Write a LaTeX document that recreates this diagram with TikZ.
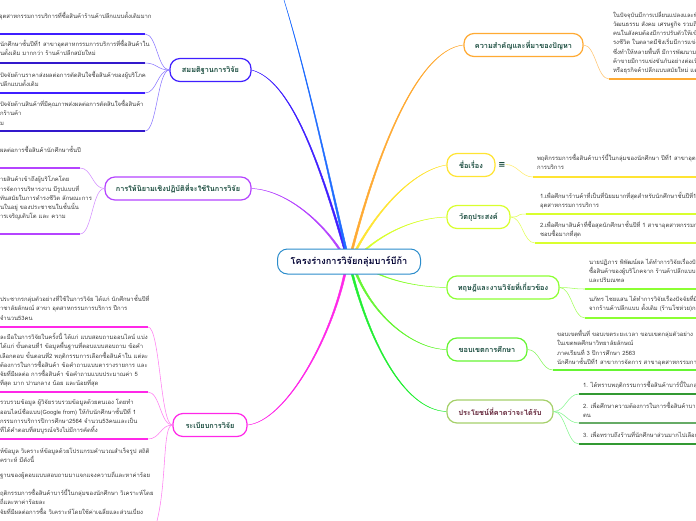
\documentclass[tikz,border=0pt]{standalone}
\usepackage{fontspec}
\newfontfamily\thaifont[Script=Thai]{Loma}
\newfontfamily\dvfont{DejaVu Sans}
\usetikzlibrary{backgrounds}
\definecolor{rootc}{HTML}{2B8CCB}
\definecolor{orc}{HTML}{FFAA33}
\definecolor{yec}{HTML}{FFE433}
\definecolor{ygc}{HTML}{D9FF2E}
\definecolor{lgc}{HTML}{8CFF33}
\definecolor{grc}{HTML}{66F533}
\definecolor{olc}{HTML}{A5D06A}
\definecolor{blc}{HTML}{3F1FFF}
\definecolor{puc}{HTML}{B544FF}
\definecolor{mac}{HTML}{FF28E8}
\definecolor{skc}{HTML}{1F6CFF}
\definecolor{titc}{HTML}{174A3C}
\definecolor{marc}{HTML}{5C1A30}
\definecolor{txtc}{HTML}{3C3C3C}
\definecolor{olg}{HTML}{22EE33}
\tikzset{
  x=1pt,y=-1pt,
  branch/.style={draw,line width=1.2pt,rounded corners=10pt,fill=white,inner sep=0pt,
    minimum height=23pt,text=titc,font=\thaifont\bfseries\fontsize{7.3}{9}\selectfont},
  rootbox/.style={draw=rootc,line width=1pt,rounded corners=10pt,fill=white,inner sep=0pt,
    minimum width=143pt,minimum height=25pt,text=black!80!blue,font=\thaifont\bfseries\fontsize{9.2}{11}\selectfont},
  leaftext/.style={anchor=north west,inner sep=0pt,outer sep=0pt,align=left,text=txtc,yshift=4.4pt,
    font=\thaifont\fontsize{5.9}{9.1}\selectfont,execute at begin node=\strut},
  uline/.style={line width=#1},
  uline/.default=1.8pt,
  twig/.style={line width=.55pt}
}
% tapered connector: start, end, control 1, control 2, colour
\newcommand{\taper}[5]{%
  \draw[#5,fill=#5,line width=.45pt,line join=round]
    ([xshift=-1.1pt]#1) .. controls (#3) and (#4) .. (#2)
    .. controls ([xshift=.9pt]#4) and ([xshift=1.1pt]#3) .. ([xshift=1.1pt]#1) -- cycle;}
% twig: from, to, colour
\newcommand{\twigr}[3]{\draw[twig,#3] (#1) .. controls +(12,0) and +(-12,0) .. (#2);}
\newcommand{\twigl}[3]{\draw[twig,#3] (#1) .. controls +(-12,0) and +(12,0) .. (#2);}
\begin{document}
\begin{tikzpicture}
\useasboundingbox (0,0) rectangle (696,520);

% ---- main nodes
\node[rootbox] (root) at (349,261.5) {โครงร่างการวิจัยกลุ่มบาร์บีก้า};
\node[branch,draw=orc,minimum width=119pt] (orn) at (523.5,45) {ความสำคัญและที่มาของปัญหา};
\node[branch,draw=yec,minimum width=48pt] (yen) at (471,165) {ชื่อเรื่อง};
\node[branch,draw=ygc,minimum width=63pt] (ygn) at (478.5,217) {วัตถุประสงค์};
\node[branch,draw=lgc,minimum width=112pt] (lgn) at (503,287.5) {ทฤษฎีและงานวิจัยที่เกี่ยวข้อง};
\node[branch,draw=grc,minimum width=80pt] (grn) at (487,349.5) {ขอบเขตการศึกษา};
\node[branch,draw=olc,minimum width=106pt,text=marc] (oln) at (500,411.5) {ประโยชน์ที่คาดว่าจะได้รับ};
\node[branch,draw=blc,minimum width=81pt] (bln) at (210.5,70) {สมมติฐานการวิจัย};
\node[branch,draw=puc,minimum width=146pt] (pun) at (178,188.5) {การให้นิยามเชิงปฏิบัติที่จะใช้ในการวิจัย};
\node[branch,draw=mac,minimum width=74pt] (man) at (210,425) {ระเบียบการวิจัย};
\node[text=titc,inner sep=0pt,font=\dvfont\bfseries\fontsize{8.5}{9}\selectfont] (menu) at (502,164.5) {≡};

% ---- root connector anchors
\coordinate (rskyS) at (346,250);
\coordinate (rblS) at (345,250);
\coordinate (rpuS) at (340,250);
\coordinate (rorS) at (352,250);
\coordinate (ryeS) at (356,250);
\coordinate (rygS) at (365,250);
\coordinate (rlgS) at (376,273);
\coordinate (rgrS) at (356,273);
\coordinate (rolS) at (352,273);
\coordinate (rmaS) at (345,273);
\coordinate (skyE) at (284,0);

\begin{pgfonlayer}{background}
\taper{rorS}{orn.west}{375,160}{415,50}{orc}
\taper{ryeS}{yen.west}{380,205}{415,170}{yec}
\taper{rygS}{ygn.west}{385,232}{415,218}{ygc}
\taper{rlgS}{lgn.west}{395,282}{420,287}{lgc}
\taper{rgrS}{grn.west}{375,320}{415,349}{grc}
\taper{rolS}{oln.west}{368,337}{402,410}{olg}
\taper{rmaS}{man.east}{330,340}{285,421}{mac}
\taper{rblS}{bln.east}{318,160}{290,80}{blc}
\taper{rpuS}{pun.east}{320,220}{285,190}{puc}
\taper{rskyS}{skyE}{326,165}{305,70}{skc}
\end{pgfonlayer}

% ---- right leaves
\coordinate (o1a) at (609,79); \coordinate (o1b) at (696,79);
\twigr{orn.east}{o1a}{orc!70!white}
\draw[uline,orc] (o1a) -- (o1b);
\node[leaftext] (o1t) at (613,16) {ในปัจจุบันมีการเปลี่ยนแปลงและพัฒนา\\วัฒนธรรม สังคม เศรษฐกิจ รวมถึง\\คนในสังคมต้องมีการปรับตัวให้เข้ากับ\\รงชีวิต ในตลาดมีชิงเริ่มมีการแข่งขัน\\ซึ่งทำให้หลายพื้นที่ มีการพัฒนามา\\ค้าขายมีการแข่งขันกันอย่างต่อเนื่อง\\หรือธุรกิจค้าปลีกแบบสมัยใหม่ แต่ก็};

\coordinate (y1a) at (533,177); \coordinate (y1b) at (696,177);
\twigr{menu.east}{y1a}{yec!70!white}
\draw[uline,yec] (y1a) -- (y1b);
\node[leaftext] (y1t) at (537,159) {พฤติกรรมการซื้อสินค้าบาร์บี้ในกลุ่มของนักศึกษา ปีที่1 สาขาอุตสาหกรรม\\การบริการ};

\coordinate (g1a) at (526,214); \coordinate (g1b) at (696,214);
\coordinate (g2a) at (535,243); \coordinate (g2b) at (696,243);
\twigr{ygn.east}{g1a}{ygc!80!white}
\twigr{ygn.east}{g2a}{ygc!80!white}
\draw[uline,ygc] (g1a) -- (g1b);
\draw[uline,ygc] (g2a) -- (g2b);
\node[leaftext] (g1t) at (540,197) {1.เพื่อศึกษาร้านค้าที่เป็นที่นิยมมากที่สุดสำหรับนักศึกษาชั้นปีที่1 สาขา\\อุตสาหกรรมการบริการ};
\node[leaftext] (g2t) at (540,226) {2.เพื่อศึกษาสินค้าที่ซื้อสุดนักศึกษาชั้นปีที่ 1 สาขาอุตสาหกรรมการบริการ\\ชอบซื้อมากที่สุด};

\coordinate (l1a) at (585,289); \coordinate (l1b) at (696,289);
\coordinate (l2a) at (585,318); \coordinate (l2b) at (696,318);
\twigr{lgn.east}{l1a}{lgc!80!white}
\twigr{lgn.east}{l2a}{lgc!80!white}
\draw[uline,lgc] (l1a) -- (l1b);
\draw[uline,lgc] (l2a) -- (l2b);
\node[leaftext] (l1t) at (589,263) {นายปฏิภาร พิพัฒน์ผล ได้ทำการวิจัยเรื่องปัจจัย\\ซื้อสินค้าของผู้บริโภคจาก ร้านค้าปลีกแบบดั้งเดิม\\และปริมณฑล};
\node[leaftext] (l2t) at (589,300) {นภัทร ไชยแสน ได้ทำการวิจัยเรื่องปัจจัยที่มีส่งผล\\จากร้านค้าปลีกแบบ ดั้งเดิม (ร้านโชห่วย)กรณี};

\coordinate (r1a) at (553,370); \coordinate (r1b) at (696,370);
\twigr{grn.east}{r1a}{grc!80!white}
\draw[uline,grc] (r1a) -- (r1b);
\node[leaftext] (r1t) at (557,335) {ขอบเขตพื้นที่ ขอบเขตระยะเวลา ขอบเขตกลุ่มตัวอย่าง\\ในเขตพลศึกษาวิทยาลัยลักษณ์\\ภาคเรียนที่ 3 ปีการศึกษา 2563\\นักศึกษาชั้นปีที่1 สาขาการจัดการ สาขาอุตสาหกรรมการบริการ};

\coordinate (p1a) at (579,394); \coordinate (p1b) at (696,394);
\coordinate (p2a) at (579,423); \coordinate (p2b) at (696,423);
\coordinate (p3a) at (579,444); \coordinate (p3b) at (696,444);
\twigr{oln.east}{p1a}{olg!55!white}
\twigr{oln.east}{p2a}{olg!55!white}
\twigr{oln.east}{p3a}{olg!55!white}
\draw[uline=1.5pt,green!50!black!80!white] (p1a) -- (p1b);
\draw[uline,green!45!black!60!white] (p2a) -- (p2b);
\draw[uline=1.5pt,green!50!black!80!white] (p3a) -- (p3b);
\node[leaftext] (p1t) at (583,386) {1. ได้ทราบพฤติกรรมการซื้อสินค้าบาร์บี้ในกลุ่มของนักศึกษา};
\node[leaftext] (p2t) at (583,407) {2. เพื่อศึกษาความต้องการในการซื้อสินค้าบาร์บี้ของกลุ่ม\\ตน};
\node[leaftext] (p3t) at (583,436) {3. เพื่อทราบถึงร้านที่นักศึกษาส่วนมากไปเลือกซื้อสินค้า};

% ---- left: hypotheses
\coordinate (b1a) at (145,34); \coordinate (b1b) at (0,34);
\coordinate (b2a) at (145,63); \coordinate (b2b) at (0,63);
\coordinate (b3a) at (145,93); \coordinate (b3b) at (0,93);
\coordinate (b4a) at (145,131); \coordinate (b4b) at (0,131);
\twigl{bln.west}{b1a}{blc!60!white}
\twigl{bln.west}{b2a}{blc!60!white}
\twigl{bln.west}{b3a}{blc!60!white}
\twigl{bln.west}{b4a}{blc!60!white}
\draw[uline,blc] (b1a) -- (b1b);
\draw[uline=1.2pt,blc!80!black] (b2a) -- (b2b);
\draw[uline,blc] (b3a) -- (b3b);
\draw[uline=1.2pt,blc!80!black] (b4a) -- (b4b);
\node[leaftext] (b0t) at (-1,17) {อุตสาหกรรมการบริการที่ซื้อสินค้าร้านค้าปลีกแบบดั้งเดิมมาก};
\node[leaftext] (b2t) at (0,45) {นักศึกษาชั้นปีที่1 สาขาอุตสาหกรรมการบริการที่ซื้อสินค้าใน\\นดั้งเดิม มากกว่า ร้านค้าปลีกสมัยใหม่};
\node[leaftext] (b3t) at (0,76) {ปัจจัยด้านราคาส่งผลต่อการตัดสินใจซื้อสินค้าของผู้บริโภค\\ปลีกแบบดั้งเดิม};
\node[leaftext] (b4t) at (0,105) {ปัจจัยด้านสินค้าที่มีคุณภาพส่งผลต่อการตัดสินใจซื้อสินค้า\\กร้านค้า\\ม};

% ---- left: definitions
\coordinate (u1a) at (80,168); \coordinate (u1b) at (0,168);
\coordinate (u2a) at (80,234); \coordinate (u2b) at (0,234);
\twigl{pun.west}{u1a}{puc!60!white}
\twigl{pun.west}{u2a}{puc!60!white}
\draw[uline,puc] (u1a) -- (u1b);
\draw[uline,puc] (u2a) -- (u2b);
\node[leaftext] (u1t) at (0,151) {ผลต่อการซื้อสินค้านักศึกษาชั้นปี};
\node[leaftext] (u2t) at (0,181) {ายสินค้าเข้าถึงผู้บริโภคโดย\\ารจัดการบริหารงาน มีรูปแบบที่\\ทันสมัยในการดำรงชีวิต ลักษณะการ\\นในอยู่ ของประชาชนในชั้นนั้น\\ารเจริญเติบโต และ ความ};

% ---- left: method
\coordinate (m1a) at (148,327); \coordinate (m1b) at (0,327);
\coordinate (m2a) at (148,392); \coordinate (m2b) at (0,392);
\coordinate (m3a) at (148,439); \coordinate (m3b) at (0,439);
\coordinate (m4a) at (157,521);
\twigl{man.west}{m1a}{mac!60!white}
\twigl{man.west}{m2a}{mac!60!white}
\twigl{man.west}{m3a}{mac!60!white}
\draw[twig,mac!60!white] (man.west) .. controls +(-10,0) and +(10,-40) .. (m4a);
\draw[uline,mac] (m1a) -- (m1b);
\draw[uline,mac] (m2a) -- (m2b);
\draw[uline,mac] (m3a) -- (m3b);
\node[leaftext] (m1t) at (0,300) {ประชากรกลุ่มตัวอย่างที่ใช้ในการวิจัย ได้แก่ นักศึกษาชั้นปีที่\\าชาลัยลักษณ์ สาขา อุตสาหกรรมการบริการ ปีการ\\จำนวน53คน};
\node[leaftext] (m2t) at (0,338) {ละมือในการวิจัยในครั้งนี้ ได้แก่ แบบสอบถามออนไลน์ แบ่ง\\ ได้แก่ ขั้นตอนที่1 ข้อมูลพื้นฐานที่ตอบแบบสอบถาม ข้อคำ\\เลือกตอบ ขั้นตอนที่2 พฤติกรรมการเลือกซื้อสินค้าใน แต่ละ\\ต้องการในการซื้อสินค้า ข้อคำถามแบบตารางรายการ และ\\จัยที่มีผลต่อ การซื้อสินค้า ข้อคำถามแบบประมาณค่า 5\\ที่สุด มาก ปานกลาง น้อย และน้อยที่สุด};
\node[leaftext] (m3t) at (0,404) {รวบรวมข้อมูล ผู้วิจัยรวบรวมข้อมูลด้วยตนเอง โดยทำ\\ออนไลน์ชื่อแบบ(Google from) ให้กับนักศึกษาชั้นปีที่ 1\\กรรมการบริการปีการศึกษา2564 จำนวน53คนและเป็น\\ที่ได้คำตอบที่สมบูรณ์จริงไม่มีการคัดทิ้ง};
\node[leaftext] (m4t) at (0,452) {ห์ข้อมูล วิเคราะห์ข้อมูลด้วยโปรแกรมคำนวณสำเร็จรูป สถิติ\\คราะห์ มีดังนี้};
\node[leaftext] (m5t) at (0,476) {ฐานของผู้ตอบแบบสอบถามมาแจกแจงความถี่และหาค่าร้อย};
\node[leaftext] (m6t) at (0,494) {ฤติกรรมการซื้อสินค้าบาร์บี้ในกลุ่มของนักศึกษา วิเคราะห์โดย\\ถี่และหาค่าร้อยละ\\จัยที่มีผลต่อการซื้อ วิเคราะห์โดยใช้ค่าเฉลี่ยและส่วนเบี่ยง};
\end{tikzpicture}
\end{document}
